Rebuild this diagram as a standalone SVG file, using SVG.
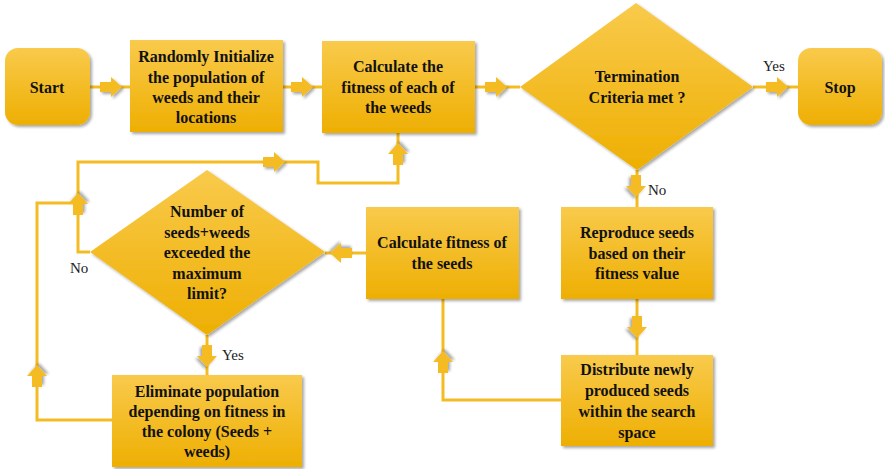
<svg xmlns="http://www.w3.org/2000/svg" width="885" height="469" viewBox="0 0 885 469">
  <defs>
    <linearGradient id="gold" x1="0" y1="0" x2="0" y2="1">
      <stop offset="0" stop-color="#F9CA4C"/>
      <stop offset="1" stop-color="#EEAF02"/>
    </linearGradient>
    <filter id="shadow" x="-10%" y="-10%" width="125%" height="130%">
      <feGaussianBlur in="SourceAlpha" stdDeviation="1.6"/>
      <feOffset dx="1.5" dy="2" result="b"/>
      <feComponentTransfer><feFuncA type="linear" slope="0.35"/></feComponentTransfer>
      <feMerge><feMergeNode/><feMergeNode in="SourceGraphic"/></feMerge>
    </filter>
    <!-- block arrow pointing right, centred on the origin -->
    <path id="arr" d="M-11,-5 H0 V-10 L11,0 L0,10 V5 H-11 Z"/>
    <style>
      .shape { fill: url(#gold); filter: url(#shadow); }
      .line { fill: none; stroke: #F4BC22; stroke-width: 3; }
      .arrow { fill: #F4BC22; filter: url(#shadow); }
      text { font-family: 'Liberation Serif', 'Times New Roman', 'DejaVu Serif', serif; }
      .t { font-size: 16px; font-weight: bold; fill: #111; text-anchor: middle; }
      .lbl { font-size: 15px; fill: #222; }
    </style>
  </defs>

  <g id="connectors">
    <line class="line" x1="90" y1="87" x2="130" y2="87"/>
    <line class="line" x1="283" y1="87" x2="322" y2="87"/>
    <line class="line" x1="475" y1="87" x2="520" y2="87"/>
    <line class="line" x1="753" y1="87" x2="798" y2="87"/>
    <line class="line" x1="637" y1="170" x2="637" y2="207"/>
    <line class="line" x1="637" y1="299" x2="637" y2="355"/>
    <polyline class="line" points="561,400 443,400 443,299"/>
    <line class="line" x1="366" y1="253" x2="325" y2="253"/>
    <line class="line" x1="207" y1="335" x2="207" y2="375"/>
    <polyline class="line" points="90,252 78,252 78,162 318,162 318,183 398,183 398,133"/>
    <polyline class="line" points="112,420 37,420 37,203 78,203"/>

    <use href="#arr" class="arrow" transform="translate(111,87)"/>
    <use href="#arr" class="arrow" transform="translate(302,87)"/>
    <use href="#arr" class="arrow" transform="translate(496,87)"/>
    <use href="#arr" class="arrow" transform="translate(777,87)"/>
    <use href="#arr" class="arrow" transform="translate(636,186) rotate(90)"/>
    <use href="#arr" class="arrow" transform="translate(637,327) rotate(90)"/>
    <use href="#arr" class="arrow" transform="translate(443,362) rotate(-90)"/>
    <use href="#arr" class="arrow" transform="translate(341,253) rotate(180)"/>
    <use href="#arr" class="arrow" transform="translate(207,356) rotate(90)"/>
    <use href="#arr" class="arrow" transform="translate(37,376) rotate(-90)"/>
    <use href="#arr" class="arrow" transform="translate(78,204) rotate(-90)"/>
    <use href="#arr" class="arrow" transform="translate(274,162)"/>
    <use href="#arr" class="arrow" transform="translate(398,154) rotate(-90)"/>

    <text class="lbl" x="763" y="71">Yes</text>
    <text class="lbl" x="648" y="195">No</text>
    <text class="lbl" x="70" y="273">No</text>
    <text class="lbl" x="222" y="360">Yes</text>
  </g>

  <g id="start">
    <rect class="shape" x="5" y="48" width="85" height="77" rx="13"/>
    <text class="t" x="47" y="93">Start</text>
  </g>

  <g id="init">
    <rect class="shape" x="130" y="40" width="153" height="92"/>
    <text class="t" x="206" y="62">Randomly Initialize</text>
    <text class="t" x="206" y="83">the population of</text>
    <text class="t" x="206" y="103">weeds and their</text>
    <text class="t" x="206" y="123">locations</text>
  </g>

  <g id="fitness-weeds">
    <rect class="shape" x="322" y="41" width="153" height="92"/>
    <text class="t" x="398" y="72">Calculate the</text>
    <text class="t" x="398" y="93">fitness of each of</text>
    <text class="t" x="398" y="113">the weeds</text>
  </g>

  <g id="termination">
    <polygon class="shape" points="520,87 636,3 753,87 637,170"/>
    <text class="t" x="637" y="82">Termination</text>
    <text class="t" x="637" y="103">Criteria met ?</text>
  </g>

  <g id="stop">
    <rect class="shape" x="798" y="48" width="84" height="77" rx="13"/>
    <text class="t" x="840" y="93">Stop</text>
  </g>

  <g id="reproduce">
    <rect class="shape" x="561" y="207" width="152" height="92"/>
    <text class="t" x="637" y="238">Reproduce seeds</text>
    <text class="t" x="637" y="259">based on their</text>
    <text class="t" x="637" y="279">fitness value</text>
  </g>

  <g id="distribute">
    <rect class="shape" x="561" y="355" width="152" height="91"/>
    <text class="t" x="637" y="375">Distribute newly</text>
    <text class="t" x="637" y="396">produced seeds</text>
    <text class="t" x="637" y="417">within the search</text>
    <text class="t" x="637" y="438">space</text>
  </g>

  <g id="fitness-seeds">
    <rect class="shape" x="366" y="207" width="153" height="92"/>
    <text class="t" x="442" y="248">Calculate fitness of</text>
    <text class="t" x="442" y="269">the seeds</text>
  </g>

  <g id="limit-check">
    <polygon class="shape" points="90,252 207,170 325,252 207,335"/>
    <text class="t" x="207" y="217">Number of</text>
    <text class="t" x="207" y="238">seeds+weeds</text>
    <text class="t" x="207" y="258">exceeded the</text>
    <text class="t" x="207" y="279">maximum</text>
    <text class="t" x="207" y="299">limit?</text>
  </g>

  <g id="eliminate">
    <rect class="shape" x="112" y="375" width="190" height="92"/>
    <text class="t" x="207" y="397">Eliminate population</text>
    <text class="t" x="207" y="417">depending on fitness in</text>
    <text class="t" x="207" y="437">the colony (Seeds +</text>
    <text class="t" x="207" y="457">weeds)</text>
  </g>
</svg>
